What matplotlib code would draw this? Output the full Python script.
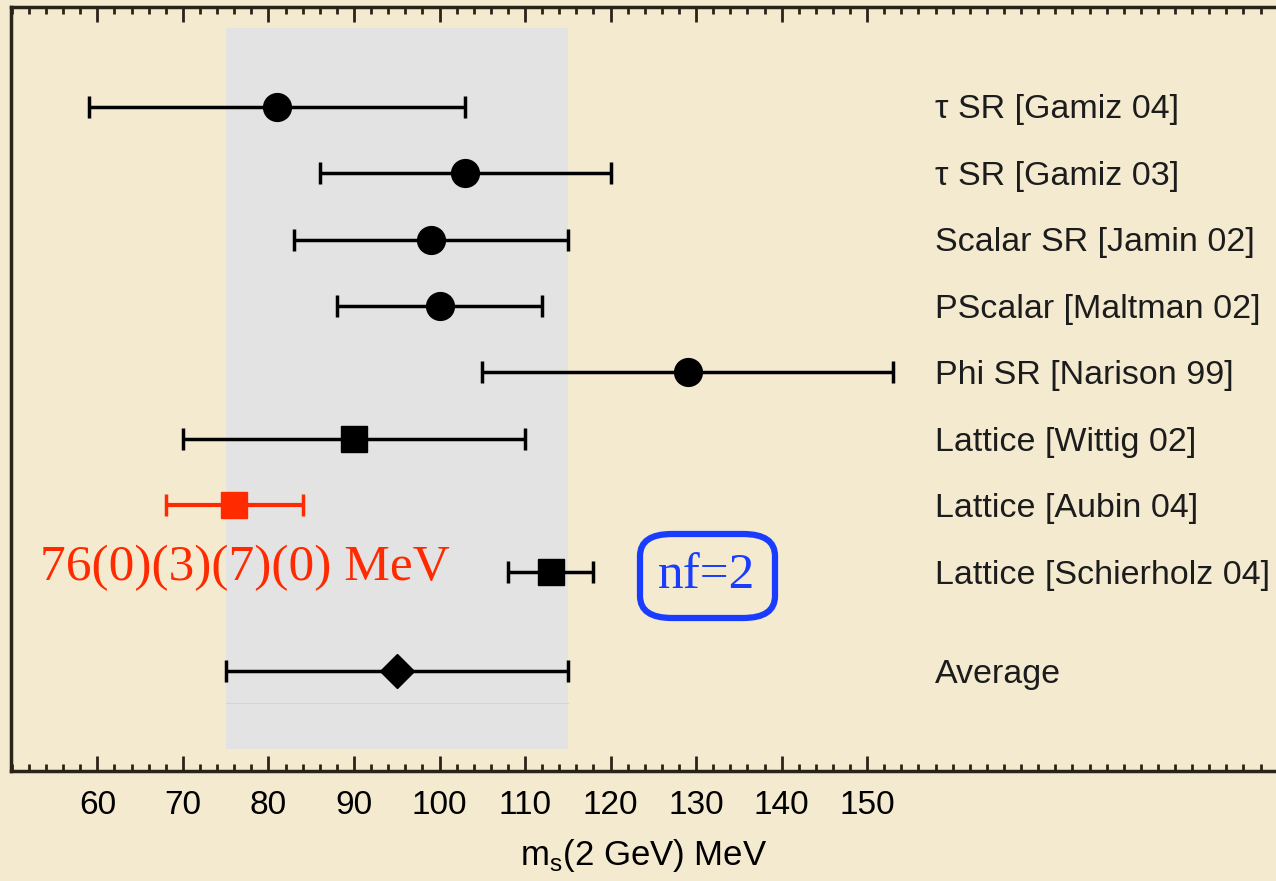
import matplotlib.pyplot as plt
import numpy as np
from matplotlib.patches import FancyBboxPatch

# measurements (MeV)
labels = ["\u03c4 SR [Gamiz 04]", "\u03c4 SR [Gamiz 03]", "Scalar SR [Jamin 02]",
          "PScalar [Maltman 02]", "Phi SR [Narison 99]", "Lattice [Wittig 02]",
          "Lattice [Aubin 04]", "Lattice [Schierholz 04]", "Average"]
centers = [81, 103, 99, 100, 129, 90, 76, 113, 95]
err_lo = [22, 17, 16, 12, 24, 20, 8, 5, 20]
err_hi = [22, 17, 16, 12, 24, 20, 8, 5, 20]
rows = [0, 1, 2, 3, 4, 5, 6, 7, 8.5]
markers = ["o", "o", "o", "o", "o", "s", "s", "s", "D"]
colors = ["black"] * 6 + ["#ff2a00"] + ["black"] * 2
band = (75, 115)

bg = "#f4ead0"
fig = plt.figure(figsize=(12.76, 8.81), dpi=100, facecolor=bg)
ax = fig.add_axes([11 / 1276, 1 - 771 / 881, 1265 / 1276, (771 - 7) / 881])
ax.set_facecolor(bg)
ax.set_xlim(49.9, 197.8)
ax.set_ylim(10, -1.5)

# gray band
ax.fill_between(band, [9.67, 9.67], [-1.19, -1.19], color="#e3e3e3", zorder=1, lw=0)
ax.plot(band, [8.97, 8.97], color="#d4d4d4", lw=0.8, zorder=1)

sizes = {"o": 20, "s": 19, "D": 17}
for i in range(len(labels)):
    ax.errorbar(centers[i], rows[i], xerr=[[err_lo[i]], [err_hi[i]]],
                fmt=markers[i], color=colors[i], ms=sizes[markers[i]],
                elinewidth=3 if i == 6 else 2.5, capsize=8, capthick=2.5, zorder=3)
    ax.text(157.9, rows[i] + 0.05, labels[i], fontsize=24.5, family="Liberation Sans",
            va="center", ha="left", color="#1c1c1c")

ax.text(40 / 1276, 1 - 568 / 881, "76(0)(3)(7)(0) MeV", transform=fig.transFigure,
        fontsize=37, family="Liberation Serif", color="#ff2a00", va="center", ha="left")

box = FancyBboxPatch((640 / 1276, 1 - 618 / 881), 135 / 1276, 84 / 881,
                     boxstyle="round,pad=0,rounding_size=0.025", transform=fig.transFigure,
                     fill=False, ec="#1a3cff", lw=4.5)
fig.patches.append(box)
fig.text(707 / 1276, 1 - 576 / 881, "nf=2", fontsize=37, family="Liberation Serif",
         color="#1a3cff", ha="center", va="center")

ax.set_xticks(np.arange(60, 151, 10))
ax.set_xticks(np.arange(50, 198, 2), minor=True)
ax.set_yticks([])
ax.tick_params(axis="x", which="both", direction="in", top=True, bottom=True,
               color="#2a2418", labelsize=24, pad=14)
ax.tick_params(axis="x", which="major", length=11, width=2)
ax.tick_params(axis="x", which="minor", length=5, width=2)
for lab in ax.get_xticklabels():
    lab.set_family("Liberation Sans")
ax.set_xlabel("m$_\\mathregular{s}$(2 GeV) MeV", fontsize=25, family="Liberation Sans", labelpad=11)
for s in ["left", "top", "bottom"]:
    ax.spines[s].set_color("#2a2418")
    ax.spines[s].set_linewidth(2.5)
ax.spines["right"].set_visible(False)

fig.savefig("out.png", dpi=100, facecolor=bg)
